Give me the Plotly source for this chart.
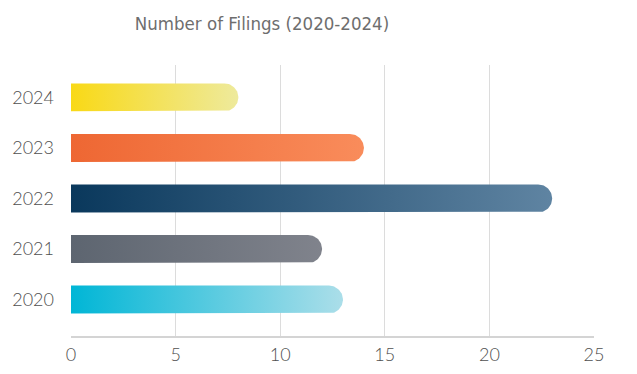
import numpy as np
import plotly.graph_objects as go

years = ["2020", "2021", "2022", "2023", "2024"]
filings = [13, 12, 23, 14, 8]
left_colors = ["#00B6D6", "#5D6570", "#0A385C", "#EE6733", "#F9D916"]
right_colors = ["#ABDEE9", "#80838C", "#5F84A2", "#F98C5B", "#EEEA9C"]
x_ticks = [0, 5, 10, 15, 20, 25]

# page body has an 8px margin; figure sized to fit the 637x374 window
W, H = 629, 366
M = dict(l=63, r=43, t=57, b=38)
x_range = [0, 25]
y_range = [-0.72, 4.64]
bar_h = 0.553  # in category units

px_per_x = (W - M["l"] - M["r"]) / (x_range[1] - x_range[0])
px_per_y = (H - M["t"] - M["b"]) / (y_range[1] - y_range[0])
r_px = bar_h * px_per_y / 2
rx = r_px / px_per_x
ry = bar_h / 2

fig = go.Figure()
for i, (yr, v) in enumerate(zip(years, filings)):
    xc = v - rx
    th = np.linspace(-np.pi / 2, np.pi / 2, 40)
    xs = [0, xc] + list(xc + rx * np.cos(th)) + [xc, 0, 0]
    ys = [i - ry, i - ry] + list(i + ry * np.sin(th)) + [i + ry, i + ry, i - ry]
    fig.add_trace(go.Scatter(
        x=xs, y=ys, mode="lines", fill="toself",
        line=dict(width=0, color=left_colors[i]),
        fillgradient=dict(type="horizontal",
                          colorscale=[[0, left_colors[i]], [1, right_colors[i]]]),
        name=yr, hoverinfo="skip", showlegend=False,
    ))

tick_font = dict(family="Lato", size=18, color="#505050", weight=300)

fig.update_layout(
    width=W, height=H, margin=dict(M, autoexpand=False),
    paper_bgcolor="white", plot_bgcolor="white",
    title=dict(text="Number of Filings (2020-2024)", x=254 / W, xanchor="center",
               y=1 - 16 / H, yanchor="middle", automargin=False,
               font=dict(family="DejaVu Sans Condensed, Roboto",
                         size=18.5, color="#6e6e6e")),
    xaxis=dict(range=x_range, tickvals=x_ticks, showgrid=True, gridcolor="#dcdcdc",
               gridwidth=1, zeroline=False, showline=True, linecolor="#d4d4d4",
               linewidth=1.5, ticks="", ticklabelstandoff=2, automargin=False,
               tickfont=tick_font),
    yaxis=dict(range=y_range, tickvals=list(range(len(years))), ticktext=years,
               showgrid=False, zeroline=False, showline=False, ticks="",
               ticklabelstandoff=16, automargin=False,
               tickfont=tick_font),
)
fig.write_html("out.html")
